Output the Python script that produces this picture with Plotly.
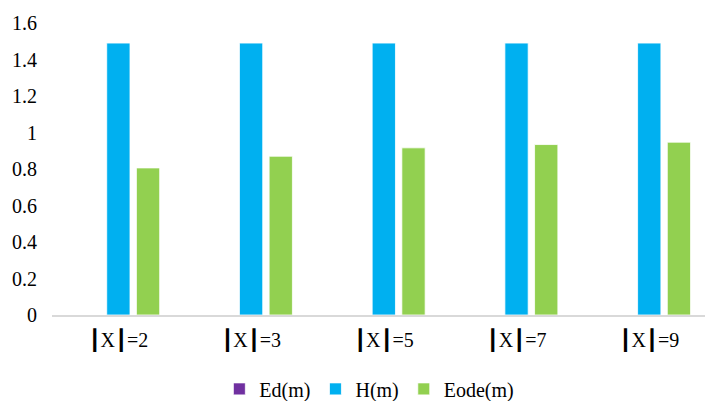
import plotly.graph_objects as go

categories = ["|X|=2", "|X|=3", "|X|=5", "|X|=7", "|X|=9"]
x_tick_labels = ["┃X┃=2", "┃X┃=3", "┃X┃=5", "┃X┃=7", "┃X┃=9"]
ed_values = [0, 0, 0, 0, 0]
h_values = [1.49, 1.49, 1.49, 1.49, 1.49]
eode_values = [0.806, 0.870, 0.916, 0.934, 0.947]
y_ticks = [0, 0.2, 0.4, 0.6, 0.8, 1.0, 1.2, 1.4, 1.6]
y_tick_labels = ["0", "0.2", "0.4", "0.6", "0.8", "1", "1.2", "1.4", "1.6"]

FONT = "Liberation Serif, DejaVu Sans"

fig = go.Figure()
fig.add_trace(go.Bar(name="Ed(m)", x=categories, y=ed_values,
                     marker=dict(color="#7030A0", line=dict(color="white", width=0.8))))
fig.add_trace(go.Bar(name="H(m)", x=categories, y=h_values,
                     marker=dict(color="#00B0F0", line=dict(color="white", width=0.8))))
fig.add_trace(go.Bar(name="Eode(m)", x=categories, y=eode_values,
                     marker=dict(color="#92D050", line=dict(color="white", width=0.8))))

fig.update_layout(
    width=705, height=401,
    margin=dict(l=52, r=0, t=23, b=86, autoexpand=False),
    barmode="group",
    bargap=0.329,
    bargroupgap=0.215,
    plot_bgcolor="white",
    paper_bgcolor="white",
    font=dict(family=FONT, size=20, color="black"),
    showlegend=True,
    legend=dict(orientation="h", x=0.486, xanchor="center", y=-0.253, yanchor="middle",
                font=dict(family=FONT, size=20, color="black"), traceorder="normal"),
    xaxis=dict(range=[-0.5, 4.42], tickvals=categories, ticktext=x_tick_labels,
               showline=True, linecolor="#d9d9d9", linewidth=1.5, automargin=False,
               showgrid=False, ticks="", ticklabelstandoff=6,
               tickfont=dict(family=FONT, size=20)),
    yaxis=dict(range=[0, 1.6], tickvals=y_ticks, ticktext=y_tick_labels, showgrid=False,
               showline=False, zeroline=False, ticks="", ticklabelstandoff=14, automargin=False,
               tickfont=dict(family=FONT, size=20)),
)

fig.write_html("out.html")
